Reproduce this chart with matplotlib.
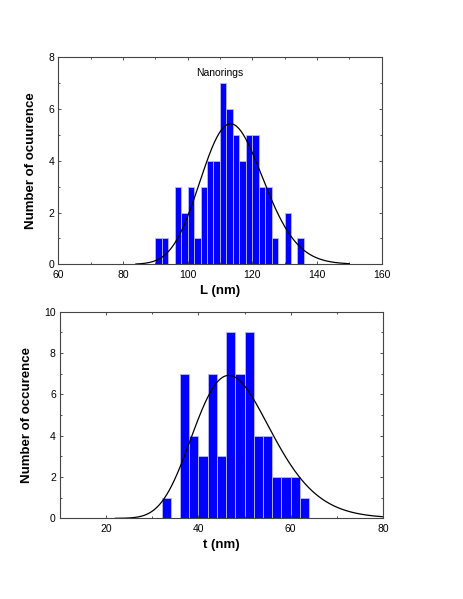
import numpy as np
import matplotlib
matplotlib.use("Agg")
import matplotlib.pyplot as plt
from matplotlib.ticker import MultipleLocator

plt.rcParams['font.family'] = ['Liberation Sans', 'DejaVu Sans']

# length histogram (L, nm) - bin centres and counts
L_centers = [91, 93, 95, 97, 99, 101, 103, 105, 107, 109, 111, 113,
             115, 117, 119, 121, 123, 125, 127, 129, 131, 133, 135]
L_counts = [1, 1, 0, 3, 2, 3, 1, 3, 4, 4, 7, 6,
            5, 4, 5, 5, 3, 3, 1, 0, 2, 0, 1]

# thickness histogram (t, nm)
t_centers = [33, 35, 37, 39, 41, 43, 45, 47, 49, 51, 53, 55, 57, 59, 61, 63]
t_counts = [1, 0, 7, 4, 3, 7, 3, 9, 7, 9, 4, 4, 2, 2, 2, 1]

bin_width = 2

# log-normal fit parameters: mode, sigma, peak height, curve range
L_fit = [113.3, 0.085, 5.43, 84, 150]
t_fit = [46.6, 0.18, 6.92, 22, 80]


def lognormal_curve(mode, sigma, peak, x0, x1):
    x = np.linspace(x0, x1, 400)
    mu = np.log(mode) + sigma ** 2
    y = np.exp(-(np.log(x) - mu) ** 2 / (2 * sigma ** 2)) / x
    y_mode = np.exp(-(np.log(mode) - mu) ** 2 / (2 * sigma ** 2)) / mode
    return x, y * peak / y_mode


def style_axes(ax, xmaj, xmin, ymaj, ymin):
    ax.xaxis.set_major_locator(MultipleLocator(xmaj))
    ax.xaxis.set_minor_locator(MultipleLocator(xmin))
    ax.yaxis.set_major_locator(MultipleLocator(ymaj))
    ax.yaxis.set_minor_locator(MultipleLocator(ymin))
    ax.tick_params(which='both', direction='in', top=True, right=True,
                   labelsize=7.5, width=0.6, color='#333333')
    ax.tick_params(axis='x', which='both', pad=4)
    ax.tick_params(axis='y', which='both', pad=3)
    ax.tick_params(which='major', length=2.5)
    ax.tick_params(which='minor', length=1.5)
    for sp in ax.spines.values():
        sp.set_linewidth(0.8)
        sp.set_color('#444444')


fig = plt.figure(figsize=(4.63, 5.99), dpi=100)

# top panel
ax1 = fig.add_axes([0.126, 0.5588, 0.698, 0.3456])
ax1.bar(L_centers, L_counts, width=bin_width, color='#0000ff',
        edgecolor='#b8b8ff', linewidth=0.6)
x, y = lognormal_curve(*L_fit)
ax1.plot(x, y, color='black', linewidth=0.9)
ax1.set_xlim(60, 160)
ax1.set_ylim(0, 8)
style_axes(ax1, 20, 10, 2, 1)
ax1.text(110, 7.4, "Nanorings", ha='center', va='center', fontsize=7.5)
ax1.set_xlabel("L (nm)", fontsize=9.5, fontweight='bold', labelpad=4)
ax1.set_ylabel("Number of ocuurence", fontsize=9.5, fontweight='bold', labelpad=8)

# bottom panel
ax2 = fig.add_axes([0.1296, 0.1347, 0.6976, 0.3449])
ax2.bar(t_centers, t_counts, width=bin_width, color='#0000ff',
        edgecolor='#b8b8ff', linewidth=0.6)
x, y = lognormal_curve(*t_fit)
ax2.plot(x, y, color='black', linewidth=0.9)
ax2.set_xlim(10, 80)
ax2.set_ylim(0, 10)
style_axes(ax2, 20, 10, 2, 1)
ax2.set_xticks([20, 40, 60, 80])
ax2.set_xlabel("t (nm)", fontsize=9.5, fontweight='bold', labelpad=4)
ax2.set_ylabel("Number of occurence", fontsize=9.5, fontweight='bold', labelpad=8)

fig.savefig("out.png", dpi=100)
